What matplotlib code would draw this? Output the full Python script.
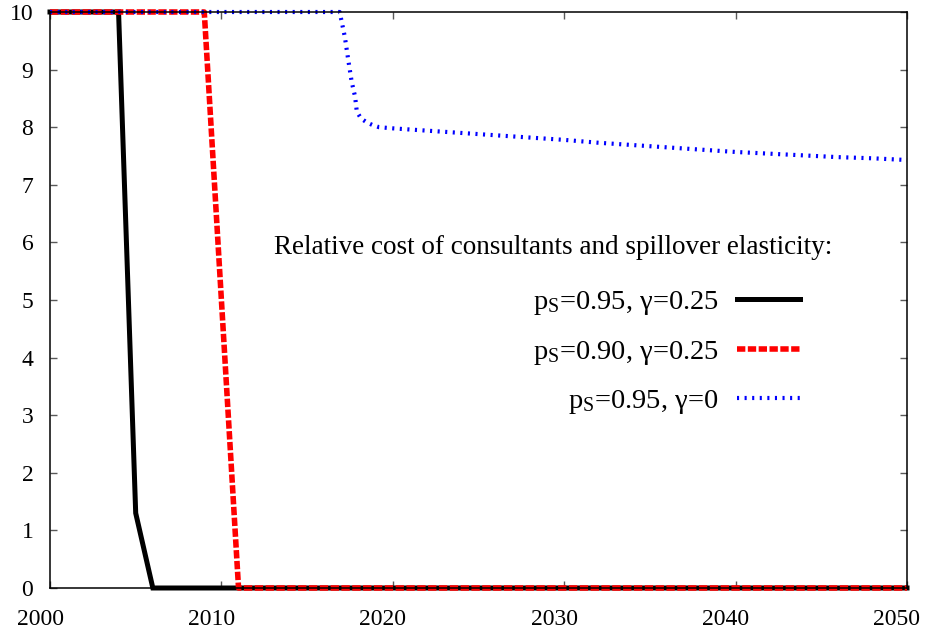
import numpy as np
import matplotlib
matplotlib.use('Agg')
import matplotlib.pyplot as plt
import matplotlib.transforms as mtrans

plt.rcParams['font.family'] = 'Liberation Serif'
plt.rcParams['mathtext.fontset'] = 'custom'
plt.rcParams['mathtext.rm'] = 'Liberation Serif'
plt.rcParams['mathtext.it'] = 'Liberation Serif:italic'

# series
yr_a = [2000, 2004, 2005, 2006, 2050]
val_a = [10, 10, 1.3, 0, 0]

yr_b = [2000, 2009, 2010, 2011, 2050]
val_b = [10, 10, 5, 0, 0]

yr_c = [2000, 2016.9, 2017.2, 2017.4, 2017.6, 2017.8, 2017.9, 2018.15, 2018.5,
        2018.8, 2019.2, 2020, 2022, 2024, 2026, 2028, 2030, 2032, 2034, 2036,
        2038, 2040, 2042, 2044, 2046, 2048, 2050]
val_c = [10, 10, 9.57, 9.17, 8.79, 8.53, 8.27, 8.15, 8.08,
         8.04, 8.00, 7.98, 7.94, 7.90, 7.86, 7.82, 7.78, 7.73, 7.69, 7.65,
         7.61, 7.57, 7.54, 7.51, 7.48, 7.46, 7.43]

labels = [r'p$_\mathregular{S}$=0.95, γ=0.25',
          r'p$_\mathregular{S}$=0.90, γ=0.25',
          r'p$_\mathregular{S}$=0.95, γ=0']
legend_title = 'Relative cost of consultants and spillover elasticity:'

fig = plt.figure(figsize=(9.26, 6.33), dpi=100)
ax = fig.add_axes([50/926, 1-588/633, 857/926, 576/633])

la, = ax.plot(yr_a, val_a, color='black', lw=3.6, solid_joinstyle='miter',
              clip_on=False, label=labels[0])
lb, = ax.plot(yr_b, val_b, color='red', lw=4, dashes=(1.5, 0.45),
              clip_on=False, label=labels[1])
lc, = ax.plot(yr_c, val_c, color='blue', lw=3, dashes=(0.5, 1.32),
              clip_on=False, label=labels[2])

ax.set_xlim(2000, 2050)
ax.set_ylim(0, 10)
ax.set_xticks(range(2000, 2051, 10))
ax.set_yticks(range(0, 11))
ax.tick_params(direction='in', length=5, width=1, color='0.35',
               top=True, right=True, labelsize=17, pad=12)
ax.tick_params(axis='x', pad=15)
for sp in ax.spines.values():
    sp.set_linewidth(1.1)

shift = mtrans.ScaledTranslation(-10/100, 0, fig.dpi_scale_trans)
for t in ax.get_xticklabels():
    t.set_transform(t.get_transform() + shift)

ax.text((832-50)/857, (588-247)/576, legend_title, transform=ax.transAxes,
        ha='right', va='center', fontsize=19.5)

leg = ax.legend(handles=[la, lb, lc], loc='upper right',
                bbox_to_anchor=((800-50)/857, (588-289)/576),
                frameon=False, markerfirst=False, fontsize=20.5,
                handlelength=2.2, handletextpad=0.66, labelspacing=0.76,
                borderpad=0, borderaxespad=0)

fig.savefig('out.png', dpi=100)
